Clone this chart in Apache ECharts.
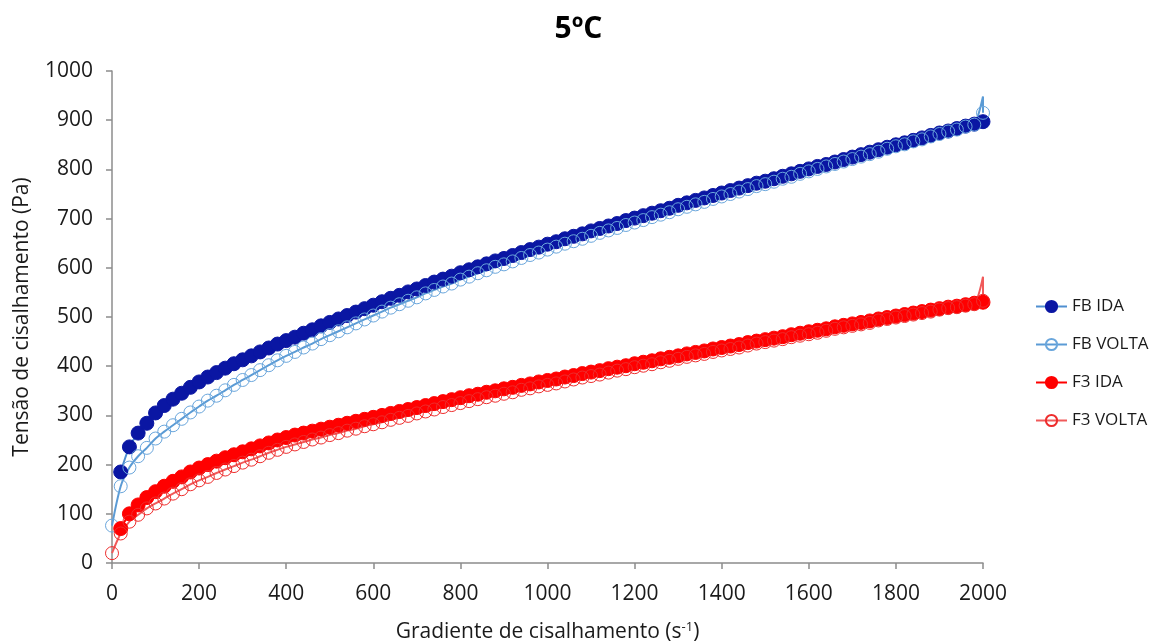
<!DOCTYPE html>
<html>
<head>
<meta charset="utf-8">
<script src="https://cdn.jsdelivr.net/npm/echarts@6/dist/echarts.min.js"></script>
<style>
  html, body { margin: 0; padding: 0; background: #ffffff; }
  #chart { width: 1157px; height: 644px; }
</style>
</head>
<body>
<div id="chart"></div>
<script>
// Shear rate (s^-1) for the up-sweep ("IDA") runs
const rateIda = [
  20, 40, 60, 80, 100, 120, 140, 160, 180, 200,
  220, 240, 260, 280, 300, 320, 340, 360, 380, 400,
  420, 440, 460, 480, 500, 520, 540, 560, 580, 600,
  620, 640, 660, 680, 700, 720, 740, 760, 780, 800,
  820, 840, 860, 880, 900, 920, 940, 960, 980, 1000,
  1020, 1040, 1060, 1080, 1100, 1120, 1140, 1160, 1180, 1200,
  1220, 1240, 1260, 1280, 1300, 1320, 1340, 1360, 1380, 1400,
  1420, 1440, 1460, 1480, 1500, 1520, 1540, 1560, 1580, 1600,
  1620, 1640, 1660, 1680, 1700, 1720, 1740, 1760, 1780, 1800,
  1820, 1840, 1860, 1880, 1900, 1920, 1940, 1960, 1980, 2000
];

// Shear rate (s^-1) for the down-sweep ("VOLTA") runs; the run turns at 2000
const rateVolta = [
  0, 20, 40, 60, 80, 100, 120, 140, 160, 180, 200,
  220, 240, 260, 280, 300, 320, 340, 360, 380, 400,
  420, 440, 460, 480, 500, 520, 540, 560, 580, 600,
  620, 640, 660, 680, 700, 720, 740, 760, 780, 800,
  820, 840, 860, 880, 900, 920, 940, 960, 980, 1000,
  1020, 1040, 1060, 1080, 1100, 1120, 1140, 1160, 1180, 1200,
  1220, 1240, 1260, 1280, 1300, 1320, 1340, 1360, 1380, 1400,
  1420, 1440, 1460, 1480, 1500, 1520, 1540, 1560, 1580, 1600,
  1620, 1640, 1660, 1680, 1700, 1720, 1740, 1760, 1780, 1800,
  1820, 1840, 1860, 1880, 1900, 1920, 1940, 1960, 1980, 2000, 2000
];
// position in the VOLTA runs of the turning reading (drawn without a marker)
const turnIndex = 100;

// Shear stress (Pa)
const fbIda = [
  185, 236, 264, 284, 305, 320, 333, 345, 357, 368,
  378, 387, 396, 405, 413, 421, 429, 437, 445, 452,
  459, 467, 474, 482, 489, 496, 503, 510, 517, 524,
  531, 538, 544, 551, 557, 564, 571, 577, 583, 590,
  596, 602, 608, 614, 619, 625, 631, 637, 642, 648,
  653, 659, 664, 669, 675, 680, 685, 690, 696, 701,
  706, 711, 716, 721, 727, 732, 737, 742, 747, 752,
  757, 762, 767, 772, 776, 781, 786, 791, 796, 801,
  806, 810, 815, 820, 825, 830, 835, 840, 845, 850,
  854, 859, 864, 869, 874, 878, 883, 888, 892, 897
];
const fbVolta = [
  76, 156, 194, 217, 234, 253, 267, 280, 293, 306, 318,
  330, 340, 351, 362, 372, 382, 392, 402, 412, 421,
  429, 438, 446, 455, 463, 471, 479, 487, 495, 503,
  511, 519, 526, 533, 540, 548, 555, 562, 568, 576,
  582, 589, 595, 602, 607, 613, 620, 626, 631, 637,
  643, 649, 654, 659, 665, 671, 676, 681, 687, 692,
  697, 703, 708, 713, 719, 724, 729, 734, 740, 745,
  750, 755, 760, 766, 770, 775, 781, 785, 791, 796,
  801, 806, 811, 816, 821, 826, 831, 836, 842, 847,
  851, 857, 861, 867, 872, 877, 881, 887, 891, 948, 915
];
const f3Ida = [
  70, 100, 118, 133, 145, 156, 166, 175, 185, 193,
  200, 207, 214, 220, 226, 232, 238, 244, 250, 255,
  260, 264, 268, 272, 276, 280, 284, 288, 292, 296,
  300, 304, 308, 312, 316, 320, 324, 328, 332, 336,
  340, 343, 347, 350, 354, 357, 361, 364, 368, 371,
  374, 378, 381, 385, 388, 391, 395, 398, 401, 405,
  408, 411, 415, 418, 421, 425, 428, 431, 435, 438,
  441, 444, 448, 451, 454, 457, 460, 464, 467, 470,
  473, 476, 480, 483, 486, 489, 492, 496, 499, 502,
  505, 508, 511, 514, 517, 520, 522, 525, 528, 530
];
const f3Volta = [
  20, 60, 84, 98, 111, 121, 131, 141, 150, 160, 168,
  175, 183, 190, 197, 204, 210, 217, 224, 230, 236,
  241, 246, 251, 255, 260, 264, 269, 273, 278, 282,
  286, 291, 295, 299, 304, 308, 312, 317, 321, 325,
  329, 333, 337, 340, 344, 347, 352, 355, 359, 362,
  365, 369, 373, 377, 380, 383, 387, 391, 394, 398,
  401, 404, 408, 411, 415, 419, 422, 425, 429, 432,
  435, 438, 442, 446, 449, 452, 455, 459, 462, 465,
  468, 472, 476, 479, 482, 485, 488, 493, 496, 499,
  502, 505, 508, 511, 515, 518, 520, 523, 526, 582, 533
];

const seriesNames = ['FB IDA', 'FB VOLTA', 'F3 IDA', 'F3 VOLTA'];

const FONT = '"Open Sans", "Noto Sans", sans-serif';
const TEXT = '#1a1a1a';
const AXIS = '#8c8c8c';

function pairs(xs, ys, hideAt) {
  return ys.map(function (y, i) {
    const item = { value: [xs[i], y] };
    if (i === hideAt) item.symbol = 'none';
    return item;
  });
}

function filledSeries(name, xs, ys, markerColor, lineColor) {
  return {
    name: name,
    type: 'line',
    data: pairs(xs, ys, -1),
    smooth: 0.3,
    symbol: 'circle',
    symbolSize: 14,
    showAllSymbol: true,
    lineStyle: { color: lineColor, width: 2 },
    itemStyle: { color: markerColor, borderColor: markerColor, borderWidth: 1 },
    emphasis: { disabled: true }
  };
}

function hollowSeries(name, xs, ys, markerColor, lineColor) {
  return {
    name: name,
    type: 'line',
    data: pairs(xs, ys, turnIndex),
    smooth: 0.3,
    symbol: 'circle',
    symbolSize: 13,
    showAllSymbol: true,
    lineStyle: { color: lineColor, width: 2 },
    itemStyle: { color: 'rgba(255,255,255,0)', borderColor: markerColor, borderWidth: 1 },
    emphasis: { disabled: true }
  };
}

const chart = echarts.init(document.getElementById('chart'), null, { renderer: 'canvas' });

chart.setOption({
  animation: false,
  backgroundColor: '#ffffff',
  title: {
    text: '5ºC',
    left: 'center',
    top: 9,
    textStyle: { fontFamily: FONT, fontSize: 30, fontWeight: 'bold', color: '#000000' }
  },
  legend: {
    data: seriesNames,
    orient: 'vertical',
    left: 1030,
    top: 293,
    itemGap: 21,
    itemWidth: 31,
    itemHeight: 14,
    textStyle: { fontFamily: FONT, fontSize: 17, color: TEXT }
  },
  grid: {
    left: 112, right: 174, top: 71, bottom: 81,
    containLabel: false,
    outerBoundsMode: 'none'
  },
  xAxis: {
    type: 'value',
    min: 0,
    max: 2000,
    interval: 200,
    name: '{t|Gradiente de cisalhamento (s}{s|-1}{t|)}',
    nameLocation: 'middle',
    nameGap: 58,
    nameTextStyle: {
      rich: {
        t: { fontFamily: FONT, fontSize: 21, color: TEXT },
        s: { fontFamily: FONT, fontSize: 13, color: TEXT, verticalAlign: 'top', padding: [0, 0, 10, 0] }
      }
    },
    axisLine: { lineStyle: { color: AXIS, width: 1.5 } },
    axisTick: { show: true, inside: false, length: 6, lineStyle: { color: AXIS, width: 1.5 } },
    axisLabel: {
      fontFamily: FONT, fontSize: 21, color: TEXT, margin: 21,
      formatter: function (v) { return String(v); }
    },
    splitLine: { show: false }
  },
  yAxis: {
    type: 'value',
    min: 0,
    max: 1000,
    interval: 100,
    name: 'Tensão de cisalhamento (Pa)',
    nameLocation: 'middle',
    nameRotate: 90,
    nameGap: 79,
    nameTextStyle: { fontFamily: FONT, fontSize: 21, color: TEXT },
    axisLine: { show: true, lineStyle: { color: AXIS, width: 1.5 } },
    axisTick: { show: true, inside: false, length: 6, lineStyle: { color: AXIS, width: 1.5 } },
    axisLabel: {
      fontFamily: FONT, fontSize: 21, color: TEXT, margin: 19,
      formatter: function (v) { return String(v); }
    },
    splitLine: { show: false }
  },
  series: [
    filledSeries('FB IDA', rateIda, fbIda, '#0a16a3', '#4f8fd0'),
    hollowSeries('FB VOLTA', rateVolta, fbVolta, '#6aa6dc', '#5b9bd5'),
    filledSeries('F3 IDA', rateIda, f3Ida, '#ff0000', '#ff0000'),
    hollowSeries('F3 VOLTA', rateVolta, f3Volta, '#ee2d2d', '#f05a5a')
  ]
});
</script>
</body>
</html>
